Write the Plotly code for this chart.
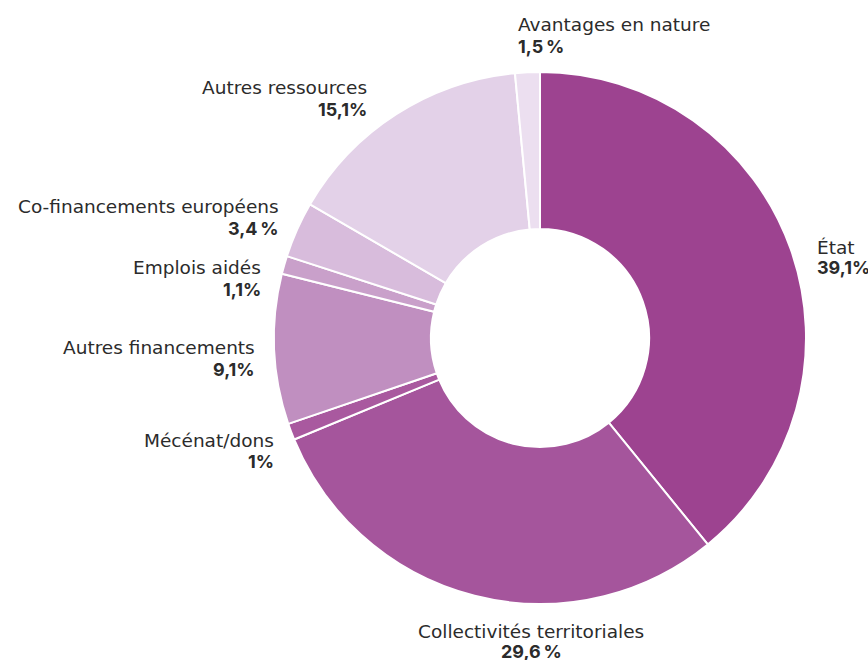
import plotly.graph_objects as go

labels = ["État", "Collectivités territoriales", "Mécénat/dons", "Autres financements",
          "Emplois aidés", "Co-financements européens", "Autres ressources", "Avantages en nature"]
values = [39.1, 29.6, 1.0, 9.1, 1.1, 3.4, 15.1, 1.5]
value_text = ["39,1%", "29,6\u202f%", "1%", "9,1%", "1,1%", "3,4\u202f%", "15,1%", "1,5\u202f%"]
colors = ["#9d4390", "#a5559c", "#a9599f", "#c08fc0", "#c9a0ca", "#d8bcdc", "#e3d1e8", "#ecdff0"]

W, H = 868, 660

def px(x):
    return x / W

def py(y):
    return 1 - y / H

fig = go.Figure(go.Pie(
    labels=labels, values=values, sort=False, direction="clockwise", rotation=0,
    hole=0.41, textinfo="none", marker=dict(colors=colors, line=dict(color="white", width=2)),
    domain=dict(x=[px(274), px(806)], y=[py(604), py(72)]),
    showlegend=False, hoverinfo="label+percent",
))

# (x anchor, name cap-centre y, value cap-centre y, alignment)
label_pos = {
    "État": (815, 247, 266, "left"),
    "Collectivités territoriales": (531, 630, 650, "center"),
    "Mécénat/dons": (276, 439, 460, "right"),
    "Autres financements": (257, 347, 369, "right"),
    "Emplois aidés": (263, 266, 288, "right"),
    "Co-financements européens": (281, 205, 227, "right"),
    "Autres ressources": (369, 86, 108, "right"),
    "Avantages en nature": (516, 24, 45, "left"),
}
for lab, vt in zip(labels, value_text):
    x, yn, yv, al = label_pos[lab]
    fig.add_annotation(
        x=px(x), y=py(yn + 1), xref="paper", yref="paper", text=lab, showarrow=False,
        xanchor=al, yanchor="middle",
        font=dict(family="DejaVu Sans, sans-serif", size=18.5, color="#2b2b2b"),
    )
    fig.add_annotation(
        x=px(x), y=py(yv + 1), xref="paper", yref="paper", text=f"<b>{vt}</b>", showarrow=False,
        xanchor=al, yanchor="middle",
        font=dict(family="Inter, sans-serif", size=18, color="#2b2b2b"),
    )

fig.update_layout(width=W, height=H, margin=dict(l=0, r=0, t=0, b=0),
                  paper_bgcolor="white", plot_bgcolor="white")
fig.write_html("out.html", config={"displayModeBar": False},
               post_script="document.body.style.margin='0';document.body.style.overflow='hidden';")
